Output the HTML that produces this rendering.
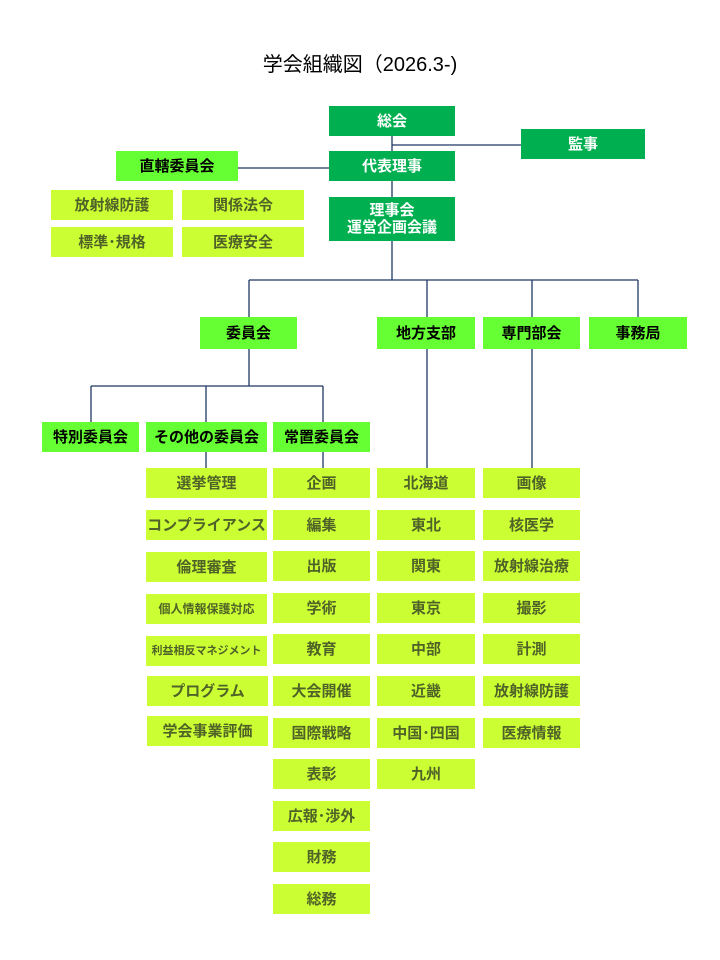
<!DOCTYPE html>
<html><head><meta charset="utf-8"><style>
body{margin:0;width:720px;height:960px;background:#fff;position:relative;font-family:"Liberation Sans","Noto Sans CJK JP",sans-serif;overflow:hidden}
.b{position:absolute;display:flex;align-items:center;justify-content:center;text-align:center;font-weight:bold;font-size:15px;line-height:17px}
.d{background:#00B050;color:#fff}
.g{background:#66FF33;color:#000}
.l{background:#CCFF33;color:#4F6228}
.t{position:absolute;left:0;width:720px;top:48px;text-align:center;font-size:20px;color:#000}
svg{position:absolute;left:0;top:0}
</style></head><body>
<div class="t">学会組織図（2026.3-)</div>
<svg width="720" height="960"><g stroke="#1F3864" stroke-width="1.3" fill="none">
<path d="M392 136V151M392 145H521M238 168H329M392 181V197M392 241V280M249 280H638M249 280V317M427 280V317M532 280V317M638 280V317M249 349V386M91 386H323M91 386V422M206 386V422M323 386V422M206 452V468M323 452V468M427 349V468M532 349V468"/></g></svg>
<div class="b d" style="left:329px;top:106px;width:126px;height:30px">総会</div>
<div class="b d" style="left:521px;top:129px;width:124px;height:30px">監事</div>
<div class="b d" style="left:329px;top:151px;width:126px;height:30px">代表理事</div>
<div class="b d" style="left:329px;top:197px;width:126px;height:44px">理事会<br>運営企画会議</div>
<div class="b g" style="left:116px;top:151px;width:122px;height:30px">直轄委員会</div>
<div class="b l" style="left:51px;top:190px;width:122px;height:30px">放射線防護</div>
<div class="b l" style="left:182px;top:190px;width:122px;height:30px">関係法令</div>
<div class="b l" style="left:51px;top:227px;width:122px;height:30px">標準･規格</div>
<div class="b l" style="left:182px;top:227px;width:122px;height:30px">医療安全</div>
<div class="b g" style="left:200px;top:317px;width:97px;height:32px">委員会</div>
<div class="b g" style="left:377px;top:317px;width:98px;height:32px">地方支部</div>
<div class="b g" style="left:483px;top:317px;width:97px;height:32px">専門部会</div>
<div class="b g" style="left:589px;top:317px;width:98px;height:32px">事務局</div>
<div class="b g" style="left:42px;top:422px;width:97px;height:30px">特別委員会</div>
<div class="b g" style="left:146px;top:422px;width:121px;height:30px">その他の委員会</div>
<div class="b g" style="left:273px;top:422px;width:97px;height:30px">常置委員会</div>

<div class="b l" style="left:146px;top:468px;width:121px;height:30px">選挙管理</div>
<div class="b l" style="left:146px;top:510px;width:121px;height:30px">コンプライアンス</div>
<div class="b l" style="left:146px;top:552px;width:121px;height:30px">倫理審査</div>
<div class="b l" style="left:146px;top:594px;width:121px;height:30px;font-size:12px">個人情報保護対応</div>
<div class="b l" style="left:146px;top:636px;width:121px;height:30px;font-size:11px">利益相反マネジメント</div>
<div class="b l" style="left:147px;top:676px;width:121px;height:30px">プログラム</div>
<div class="b l" style="left:147px;top:716px;width:121px;height:30px">学会事業評価</div>

<div class="b l" style="left:273px;top:468px;width:97px;height:30px">企画</div>
<div class="b l" style="left:273px;top:510px;width:97px;height:30px">編集</div>
<div class="b l" style="left:273px;top:551px;width:97px;height:30px">出版</div>
<div class="b l" style="left:273px;top:593px;width:97px;height:30px">学術</div>
<div class="b l" style="left:273px;top:634px;width:97px;height:30px">教育</div>
<div class="b l" style="left:273px;top:676px;width:97px;height:30px">大会開催</div>
<div class="b l" style="left:273px;top:718px;width:97px;height:30px">国際戦略</div>
<div class="b l" style="left:273px;top:759px;width:97px;height:30px">表彰</div>
<div class="b l" style="left:273px;top:801px;width:97px;height:30px">広報･渉外</div>
<div class="b l" style="left:273px;top:842px;width:97px;height:30px">財務</div>
<div class="b l" style="left:273px;top:884px;width:97px;height:30px">総務</div>

<div class="b l" style="left:377px;top:468px;width:98px;height:30px">北海道</div>
<div class="b l" style="left:377px;top:510px;width:98px;height:30px">東北</div>
<div class="b l" style="left:377px;top:551px;width:98px;height:30px">関東</div>
<div class="b l" style="left:377px;top:593px;width:98px;height:30px">東京</div>
<div class="b l" style="left:377px;top:634px;width:98px;height:30px">中部</div>
<div class="b l" style="left:377px;top:676px;width:98px;height:30px">近畿</div>
<div class="b l" style="left:377px;top:718px;width:98px;height:30px">中国･四国</div>
<div class="b l" style="left:377px;top:759px;width:98px;height:30px">九州</div>

<div class="b l" style="left:483px;top:468px;width:97px;height:30px">画像</div>
<div class="b l" style="left:483px;top:510px;width:97px;height:30px">核医学</div>
<div class="b l" style="left:483px;top:551px;width:97px;height:30px">放射線治療</div>
<div class="b l" style="left:483px;top:593px;width:97px;height:30px">撮影</div>
<div class="b l" style="left:483px;top:634px;width:97px;height:30px">計測</div>
<div class="b l" style="left:483px;top:676px;width:97px;height:30px">放射線防護</div>
<div class="b l" style="left:483px;top:718px;width:97px;height:30px">医療情報</div>
</body></html>
